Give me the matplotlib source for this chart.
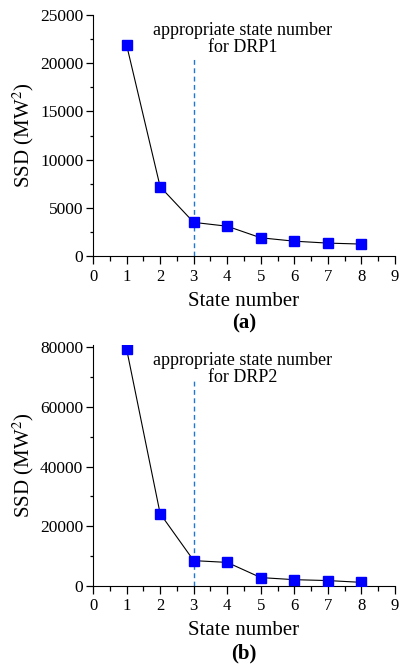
import numpy as np
from matplotlib import pyplot as plt
from matplotlib.ticker import MultipleLocator

# SSD against state number for the two DRPs
states = [1, 2, 3, 4, 5, 6, 7, 8]
ssd_drp1 = [21900, 7200, 3500, 3100, 1900, 1550, 1350, 1250]
ssd_drp2 = [79500, 24200, 8400, 7800, 2700, 2000, 1700, 1100]
chosen = 3                      # appropriate state number
vline_top = [20500, 68700]      # top of the dashed marker line
labels = ['DRP1', 'DRP2']
panels = ['(a)', '(b)']

plt.rcParams['font.family'] = ['Liberation Serif', 'DejaVu Serif']
plt.rcParams['mathtext.fontset'] = 'stix'

fig = plt.figure(figsize=(4.01, 6.67), dpi=100)
ax1 = fig.add_axes([0.232, 0.616, 0.753, 0.3615])
ax2 = fig.add_axes([0.232, 0.122, 0.753, 0.3615])

setup = [
    (ax1, ssd_drp1, 25000, 5000, 2500, vline_top[0]),
    (ax2, ssd_drp2, 81000, 20000, 10000, vline_top[1]),
]

for i, (ax, ssd, ytop, ymaj, ymin, vtop) in enumerate(setup):
    ax.plot(states, ssd, color='black', lw=0.8, marker='s', ms=7.8,
            mfc='blue', mec='blue', zorder=3)
    ax.plot([chosen, chosen], [0, vtop], color='#1f77d4', lw=1.0,
            ls=(0, (3.5, 2.5)), zorder=2)
    ax.set_xlim(0, 9)
    ax.set_ylim(0, ytop)
    ax.xaxis.set_major_locator(MultipleLocator(1))
    ax.xaxis.set_minor_locator(MultipleLocator(0.5))
    ax.set_yticks(np.arange(0, ytop + 1, ymaj))
    ax.yaxis.set_minor_locator(MultipleLocator(ymin))
    ax.spines['top'].set_visible(False)
    ax.spines['right'].set_visible(False)
    ax.tick_params(axis='x', which='major', direction='out', length=6,
                   width=0.9, labelsize=12, pad=3)
    ax.tick_params(axis='x', which='minor', direction='out', length=3.5,
                   width=0.9)
    ax.tick_params(axis='y', which='major', direction='out', length=5,
                   width=0.9, labelsize=12.5, pad=2)
    ax.tick_params(axis='y', which='minor', direction='out', length=2.5,
                   width=0.9)
    ax.set_xlabel('State number', fontsize=15, labelpad=5)
    ax.set_ylabel('SSD (MW$^2$)', fontsize=15, labelpad=3)
    ax.text(4.47, ytop * 0.97, 'appropriate state number\nfor ' + labels[i],
            ha='center', va='top', fontsize=13, linespacing=1.0)
    ax.text(0.5, -0.28, panels[i], transform=ax.transAxes, ha='center',
            va='center', fontsize=15, fontweight='bold')

plt.savefig('out.png', dpi=100)
